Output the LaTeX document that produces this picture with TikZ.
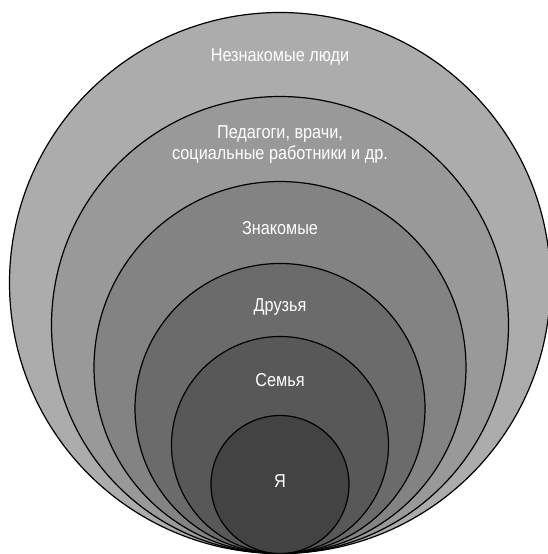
\documentclass[tikz,border=0pt]{standalone}
\usepackage{fontspec}
\setmainfont{Liberation Sans}[FakeStretch=0.87]

\definecolor{ringA}{gray}{0.675}
\definecolor{ringB}{gray}{0.600}
\definecolor{ringC}{gray}{0.515}
\definecolor{ringD}{gray}{0.420}
\definecolor{ringE}{gray}{0.345}
\definecolor{ringF}{gray}{0.263}

\tikzset{
  ring/.style={draw=black, line width=0.9pt},
  ringlabel/.style={text=white, align=center, font=\fontsize{14}{15.75}\selectfont},
}

\begin{document}
\begin{tikzpicture}[x=0.75pt,y=0.75pt,yscale=-1,xscale=1]
\clip (0,0) rectangle (548,554);

%Shape: Circle [id:outer]
\draw [ring, fill=ringA] (280,283) circle (270.5);
%Shape: Circle [id:specialists]
\draw [ring, fill=ringB] (280,325) circle (228.5);
%Shape: Circle [id:acquaintances]
\draw [ring, fill=ringC] (280,367.5) circle (186);
%Shape: Circle [id:friends]
\draw [ring, fill=ringD] (280,408.5) circle (145);
%Shape: Circle [id:family]
\draw [ring, fill=ringE] (280,445) circle (108.5);
%Shape: Circle [id:me]
\draw [ring, fill=ringF] (280,484.5) circle (69);

% Text Node
\node [ringlabel] (strangers) at (280,57) {Незнакомые люди};
% Text Node
\node [ringlabel] (professionals) at (280,145) {Педагоги, врачи,\\социальные работники и др.};
% Text Node
\node [ringlabel] (znakomye) at (280,228) {Знакомые};
% Text Node
\node [ringlabel] (druzya) at (280,307) {Друзья};
% Text Node
\node [ringlabel] (semya) at (280,380) {Семья};
% Text Node
\node [ringlabel] (ya) at (280,481) {Я};
\end{tikzpicture}
\end{document}
